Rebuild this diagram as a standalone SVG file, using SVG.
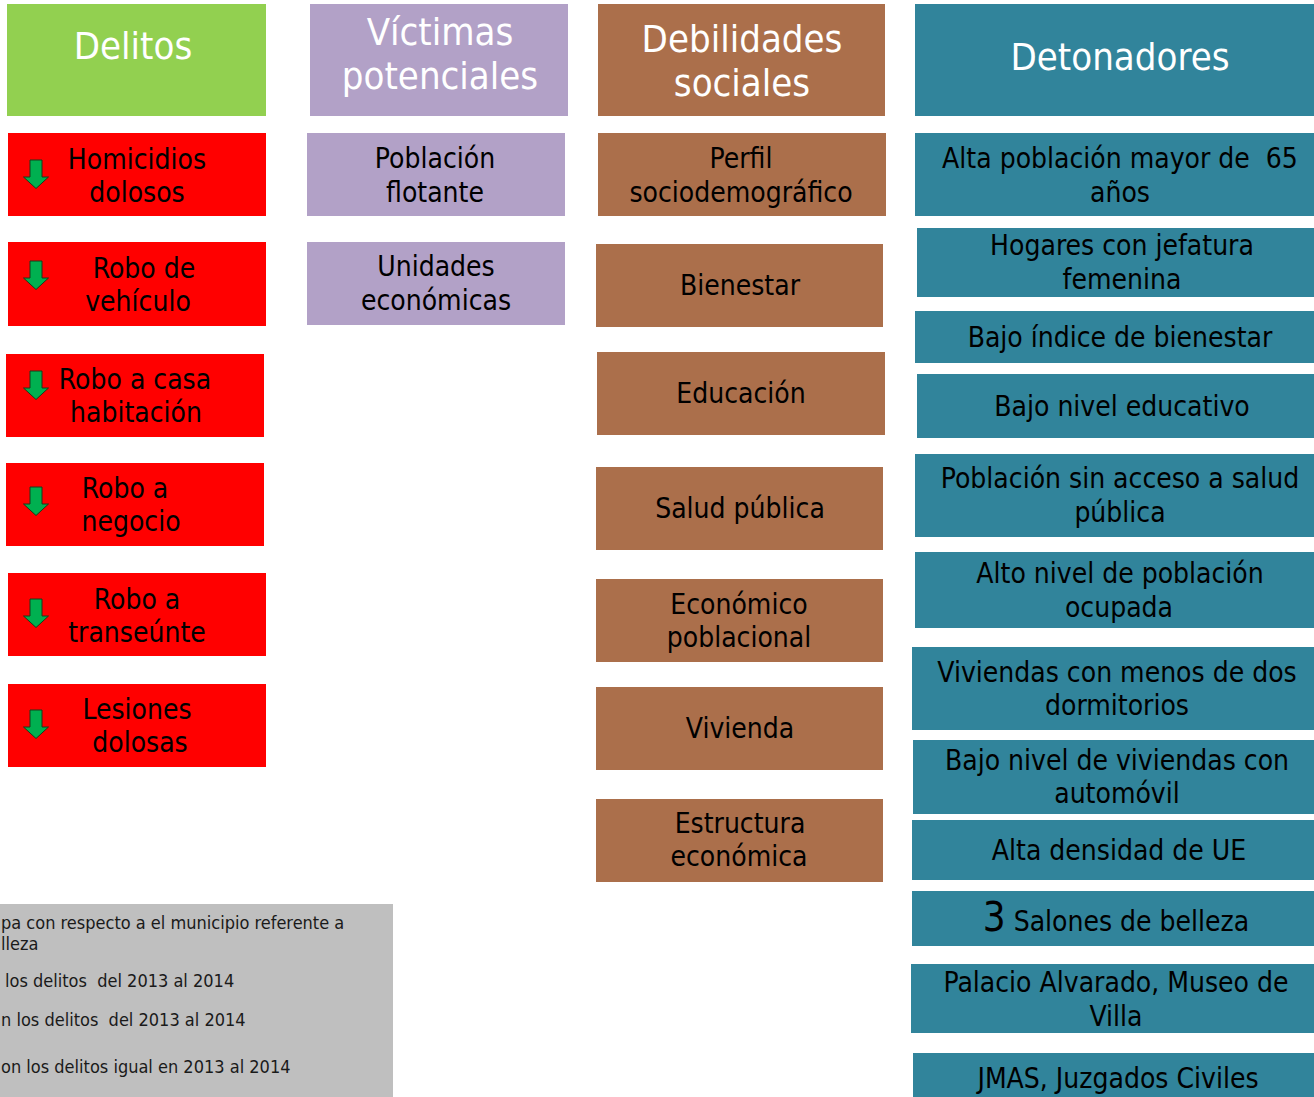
<svg xmlns="http://www.w3.org/2000/svg" width="1314" height="1097" viewBox="0 0 1314 1097">
<defs>
<style>
text{font-family:'Liberation Sans Narrow','DejaVu Sans Condensed','Roboto Condensed',sans-serif;text-anchor:middle}
.h{fill:#ffffff;font-size:38px}
.b{fill:#000000;font-size:28px}
.lg{fill:#1a1a1a;font-size:18px;text-anchor:start}
.red{fill:#FF0000}
.pur{fill:#B2A1C7}
.brn{fill:#AB6F4B}
.tea{fill:#31849B}
.arr{fill:#00B050;stroke:#1a3a1a;stroke-width:1}
</style>
<path id="dn" d="M0,0 h12 v17 h6.5 l-12.5,11.5 l-12.5,-11.5 h6.5 z"/>
</defs>
<rect x="0" y="0" width="1314" height="1097" fill="#ffffff"/>
<g id="headers">
<g id="h-delitos"><rect x="7" y="4" width="259" height="112" fill="#92D050"/><text class="h" x="133" y="59">Delitos</text></g>
<g id="h-victimas"><rect class="pur" x="310" y="4" width="258" height="112"/><text class="h" x="440" y="45">Víctimas</text><text class="h" x="440" y="89">potenciales</text></g>
<g id="h-debilidades"><rect class="brn" x="598" y="4" width="287" height="112"/><text class="h" x="742" y="52">Debilidades</text><text class="h" x="742" y="96">sociales</text></g>
<g id="h-detonadores"><rect class="tea" x="915" y="4" width="399" height="112"/><text class="h" x="1120" y="70">Detonadores</text></g>
</g>
<g id="connectors"></g>
<g id="delitos">
<g id="d1"><rect class="red" x="8" y="133" width="258" height="83"/><use href="#dn" class="arr" x="30" y="160"/><text class="b" x="137" y="169">Homicidios</text><text class="b" x="137" y="202">dolosos</text></g>
<g id="d2"><rect class="red" x="8" y="242" width="258" height="84"/><use href="#dn" class="arr" x="30" y="261"/><text class="b" x="144" y="278">Robo de</text><text class="b" x="138" y="311">vehículo</text></g>
<g id="d3"><rect class="red" x="6" y="354" width="258" height="83"/><use href="#dn" class="arr" x="30" y="371"/><text class="b" x="135" y="389">Robo a casa</text><text class="b" x="136" y="422">habitación</text></g>
<g id="d4"><rect class="red" x="6" y="463" width="258" height="83"/><use href="#dn" class="arr" x="30" y="487"/><text class="b" x="125" y="498">Robo a</text><text class="b" x="131" y="531">negocio</text></g>
<g id="d5"><rect class="red" x="8" y="573" width="258" height="83"/><use href="#dn" class="arr" x="30" y="599"/><text class="b" x="137" y="609">Robo a</text><text class="b" x="137" y="642">transeúnte</text></g>
<g id="d6"><rect class="red" x="8" y="684" width="258" height="83"/><use href="#dn" class="arr" x="30" y="710"/><text class="b" x="137" y="719">Lesiones</text><text class="b" x="140" y="752">dolosas</text></g>
</g>
<g id="victimas">
<g id="v1"><rect class="pur" x="307" y="133" width="258" height="83"/><text class="b" x="435" y="168">Población</text><text class="b" x="435" y="202">flotante</text></g>
<g id="v2"><rect class="pur" x="307" y="242" width="258" height="83"/><text class="b" x="436" y="276">Unidades</text><text class="b" x="436" y="310">económicas</text></g>
</g>
<g id="debilidades">
<g id="s1"><rect class="brn" x="598" y="133" width="288" height="83"/><text class="b" x="741" y="168">Perfil</text><text class="b" x="741" y="202">sociodemográfico</text></g>
<g id="s2"><rect class="brn" x="596" y="244" width="287" height="83"/><text class="b" x="740" y="295">Bienestar</text></g>
<g id="s3"><rect class="brn" x="597" y="352" width="288" height="83"/><text class="b" x="741" y="403">Educación</text></g>
<g id="s4"><rect class="brn" x="596" y="467" width="287" height="83"/><text class="b" x="740" y="518">Salud pública</text></g>
<g id="s5"><rect class="brn" x="596" y="579" width="287" height="83"/><text class="b" x="739" y="614">Económico</text><text class="b" x="739" y="647">poblacional</text></g>
<g id="s6"><rect class="brn" x="596" y="687" width="287" height="83"/><text class="b" x="740" y="738">Vivienda</text></g>
<g id="s7"><rect class="brn" x="596" y="799" width="287" height="83"/><text class="b" x="740" y="833">Estructura</text><text class="b" x="739" y="866">económica</text></g>
</g>
<g id="detonadores">
<g id="t1"><rect class="tea" x="915" y="133" width="399" height="83"/><text class="b" x="1120" y="168" xml:space="preserve">Alta población mayor de  65</text><text class="b" x="1120" y="202">años</text></g>
<g id="t2"><rect class="tea" x="917" y="228" width="397" height="69"/><text class="b" x="1122" y="255">Hogares con jefatura</text><text class="b" x="1122" y="289">femenina</text></g>
<g id="t3"><rect class="tea" x="915" y="311" width="399" height="52"/><text class="b" x="1120" y="347">Bajo índice de bienestar</text></g>
<g id="t4"><rect class="tea" x="917" y="374" width="397" height="64"/><text class="b" x="1122" y="416">Bajo nivel educativo</text></g>
<g id="t5"><rect class="tea" x="915" y="454" width="399" height="83"/><text class="b" x="1120" y="488">Población sin acceso a salud</text><text class="b" x="1120" y="522">pública</text></g>
<g id="t6"><rect class="tea" x="915" y="552" width="399" height="76"/><text class="b" x="1120" y="583">Alto nivel de población</text><text class="b" x="1119" y="617">ocupada</text></g>
<g id="t7"><rect class="tea" x="912" y="647" width="402" height="83"/><text class="b" x="1117" y="682">Viviendas con menos de dos</text><text class="b" x="1117" y="715">dormitorios</text></g>
<g id="t8"><rect class="tea" x="913" y="740" width="401" height="74"/><text class="b" x="1117" y="770">Bajo nivel de viviendas con</text><text class="b" x="1117" y="803">automóvil</text></g>
<g id="t9"><rect class="tea" x="912" y="820" width="402" height="60"/><text class="b" x="1119" y="860">Alta densidad de UE</text></g>
<g id="t10"><rect class="tea" x="912" y="891" width="402" height="55"/><text class="b" x="1116" y="931"><tspan font-size="40px">3</tspan> Salones de belleza</text></g>
<g id="t11"><rect class="tea" x="911" y="964" width="403" height="69"/><text class="b" x="1116" y="992">Palacio Alvarado, Museo de</text><text class="b" x="1116" y="1026">Villa</text></g>
<g id="t12"><rect class="tea" x="913" y="1053" width="401" height="44"/><text class="b" x="1118" y="1088">JMAS, Juzgados Civiles</text></g>
</g>
<g id="legend">
<rect x="0" y="904" width="393" height="193" fill="#BFBFBF"/>
<text class="lg" x="1" y="929">pa con respecto a el municipio referente a</text>
<text class="lg" x="1" y="950">lleza</text>
<text class="lg" x="5" y="987" xml:space="preserve">los delitos  del 2013 al 2014</text>
<text class="lg" x="1" y="1026" xml:space="preserve">n los delitos  del 2013 al 2014</text>
<text class="lg" x="1" y="1073">on los delitos igual en 2013 al 2014</text>
</g>
</svg>
